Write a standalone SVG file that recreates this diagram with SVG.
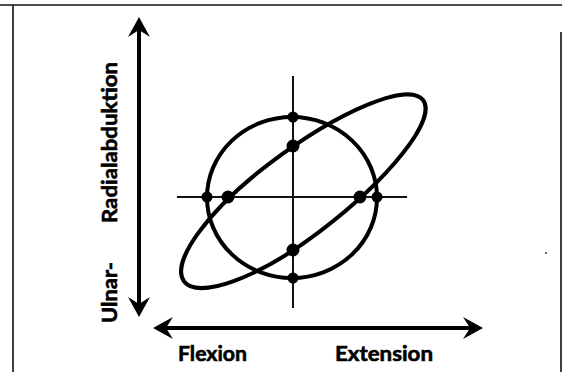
<svg xmlns="http://www.w3.org/2000/svg" width="562" height="372" viewBox="0 0 562 372">
  <style>
    .frame { stroke: #111; stroke-width: 1.6; fill: none; }
    .axis { stroke: #000; stroke-width: 4; fill: none; }
    .cross { stroke: #111; stroke-width: 2; fill: none; }
    .curve { stroke: #000; stroke-width: 4; fill: none; }
    .dot { fill: #000; }
    .lbl { font-family: Lato, "Open Sans", "Liberation Sans", sans-serif; font-weight: bold; font-size: 21px; fill: #000; stroke: #000; stroke-width: 0.6; }
  </style>
  <defs>
    <marker id="head" viewBox="0 0 20 22" refX="12" refY="11" markerWidth="20" markerHeight="22" markerUnits="userSpaceOnUse" orient="auto-start-reverse">
      <path d="M0,0 L20,11 L0,22 L7,11 Z" fill="#000"/>
    </marker>
  </defs>
  <rect width="562" height="372" fill="#fff"/>
  <g id="frame">
    <line class="frame" x1="0" y1="5" x2="562" y2="5"/>
    <line class="frame" x1="13" y1="5" x2="13" y2="372"/>
    <line class="frame" x1="561" y1="32" x2="561" y2="372"/>
    <circle cx="546" cy="253" r="1" fill="#333"/>
  </g>
  <g id="connectors">
    <line id="v-axis" class="axis" x1="139" y1="25" x2="139" y2="309" marker-start="url(#head)" marker-end="url(#head)"/>
    <line id="h-axis" class="axis" x1="161" y1="328" x2="475" y2="328" marker-start="url(#head)" marker-end="url(#head)"/>
    <line class="cross" x1="293" y1="76" x2="293" y2="308"/>
    <line class="cross" x1="177" y1="197" x2="407" y2="197"/>
  </g>
  <g id="circle-node">
    <ellipse class="curve" cx="292" cy="197.5" rx="85" ry="80.5"/>
    <circle class="dot" cx="293" cy="117" r="5.5"/>
    <circle class="dot" cx="207" cy="197" r="5.5"/>
    <circle class="dot" cx="377" cy="197" r="5.5"/>
    <circle class="dot" cx="293" cy="278" r="5.5"/>
  </g>
  <g id="ellipse-node">
    <path class="curve" transform="translate(294 198) rotate(-37.2)" d="M0,-42.3 A162,42.3 0 0 1 0,42.3 A138,42.3 0 0 1 0,-42.3 Z"/>
    <circle class="dot" cx="293" cy="146" r="6.5"/>
    <circle class="dot" cx="228" cy="197" r="6.5"/>
    <circle class="dot" cx="360" cy="197" r="6.5"/>
    <circle class="dot" cx="293" cy="250" r="6.5"/>
  </g>
  <g id="labels">
    <text class="lbl" x="178" y="361" textLength="69" lengthAdjust="spacingAndGlyphs">Flexion</text>
    <text class="lbl" x="335" y="361" textLength="98" lengthAdjust="spacingAndGlyphs">Extension</text>
    <text class="lbl" transform="translate(117 323) rotate(-90)" textLength="61" lengthAdjust="spacingAndGlyphs">Ulnar-</text>
    <text class="lbl" transform="translate(117 223) rotate(-90)" textLength="161" lengthAdjust="spacingAndGlyphs">Radialabduktion</text>
  </g>
</svg>
